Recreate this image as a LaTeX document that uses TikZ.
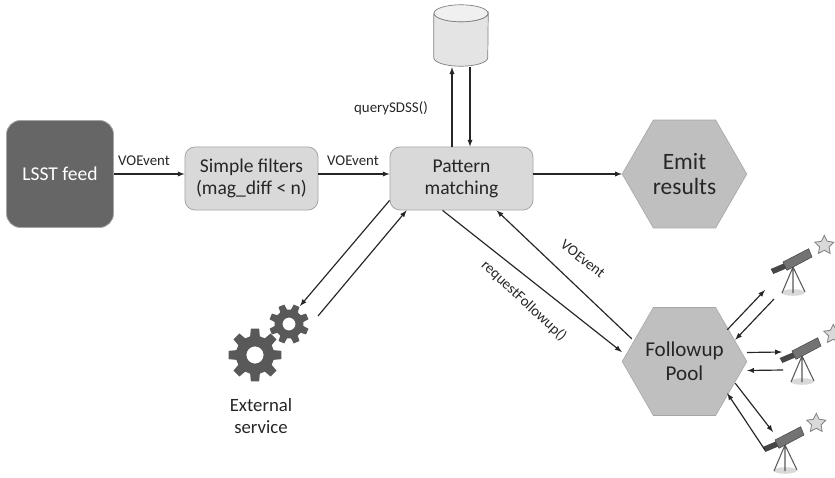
\documentclass[tikz,border=0pt]{standalone}
\usepackage{fontspec}
\setmainfont{Carlito}
\usetikzlibrary{shapes.geometric,calc}

\definecolor{boxfill}{HTML}{D9D9D9}
\definecolor{boxline}{HTML}{A6A6A6}
\definecolor{hexfill}{HTML}{BFBFBF}
\definecolor{darkfill}{HTML}{666666}
\definecolor{iconfill}{HTML}{595959}
\definecolor{inktext}{HTML}{262626}

\tikzset{
  x=.03cm,y=-.03cm,
  every node/.style={text=inktext,align=center,inner sep=0pt},
  flow/.style={-latex,line width=1pt,black!85},
  box/.style={draw=boxline,fill=boxfill,line width=.7pt,rounded corners=.3cm,font=\fontsize{16.7}{18.7}\selectfont},
  hexa/.style={regular polygon,regular polygon sides=6,minimum size=3.74cm,fill=hexfill,draw=boxline,line width=.5pt,font=\fontsize{18}{20.7}\selectfont},
  tag/.style={font=\fontsize{12.7}{14}\selectfont},
  gear/.pic={
    \fill[iconfill,even odd rule] (-14.5:14.5)
      \foreach \a in {0,45,...,315}{
        -- (\a-14.5:14.5) -- (\a-9:20) -- (\a+9:20) -- (\a+14.5:14.5)
      } -- cycle (0,0) circle (6.5);
  },
  telescope/.pic={
    \coordinate (-apex) at (0,0);
    \fill[gray!30] (0,25.5) ellipse (11.7 and 3.3);
    \draw[iconfill,line width=.9pt] (-11,26) -- (0,0) -- (12,25) (0,0) -- (0,26);
    \fill[iconfill!80!black] (-9.3,-3.5) -- (-6.7,1.5) -- (-19.7,7) -- (-22.3,2) -- cycle;
    \fill[gray!90!black,draw=black!75,line width=.4pt] (-10,-5) -- (15.7,-18.3) -- (19,-10) -- (-6,3.3) -- cycle;
    \node[star,star points=5,star point ratio=2,minimum size=.6cm,fill=boxfill,draw=gray,line width=.7pt] (-star) at (31.3,-21.7) {};
  }
}

\begin{document}
\begin{tikzpicture}
  \useasboundingbox (0,0) rectangle (835,478);

  \node[box,fill=darkfill,text=white,minimum width=3.21cm,minimum height=3.21cm,rounded corners=.42cm] (lsst) at (60,174) {LSST feed};
  \node[box,minimum width=3.99cm,minimum height=1.89cm] (filters) at (251.5,178.5) {Simple filters\\(mag\_diff < n)};
  \node[box,minimum width=4.29cm,minimum height=1.89cm] (pattern) at (461.5,178.5) {Pattern\\matching};
  \node[minimum width=1.62cm,minimum height=1.83cm] (db) at (461,35.5) {};
  \draw[draw=gray,line width=.6pt,fill=boxfill!70] ($(db.north west)+(0,8.5)$) -- ($(db.south west)+(0,-8.5)$) arc (180:0:27 and 8.5) -- ($(db.north east)+(0,8.5)$) arc (0:180:27 and 8.5);
  \draw[draw=gray,line width=.6pt,fill=boxfill!40] ($(db.north)+(0,8.5)$) ellipse (27 and 8.5);
  \node[hexa,font=\fontsize{20}{21}\selectfont] (emit) at (684.5,174) {Emit\\\makebox[0pt]{results}};
  \node[hexa] (pool) at (684.5,361.5) {\makebox[0pt]{Followup}\\Pool};

  \coordinate (gearin) at (300,306);
  \coordinate (gearout) at (318,316);
  \pic[rotate=22.5] (gearsmall) at (289,324) {gear};
  \pic[scale=1.33] (gearbig) at (255,355) {gear};
  \node[font=\fontsize{16}{18.7}\selectfont] (external) at (261,416) {External\\service};

  \pic (scopea) at (793,267) {telescope};
  \pic (scopeb) at (802,356) {telescope};
  \pic (scopec) at (785,445) {telescope};

  \draw[flow] (lsst.east |- 0,174) -- (filters.west |- 0,174);
  \draw[flow] (filters.east |- 0,174) -- (pattern.west |- 0,174);
  \draw[flow] (pattern.east |- 0,174) -- (emit.west |- 0,174);
  \draw[flow] ($(pattern.north)+(-9.5,0)$) -- ($(db.south)+(-9,1)$);
  \draw[flow] ($(db.south)+(9,1)$) -- ($(pattern.north)+(8.5,0)$);
  \draw[flow] ($(pattern.south west)+(0,-10)$) -- (gearin);
  \draw[flow] (gearout) -- ($(pattern.south west)+(17,0)$);
  \draw[flow] ($(pattern.south west)+(53,0)$) -- ($(pool.west)+(0,-9.5)$);
  \draw[flow] ($(pool.north west)+(-13,17)$) -- ($(pattern.south west)+(107,0)$);

  \draw[flow] ($(pool.north east)+(3,8)$) -- ($(scopea-apex)+(-28,23)$);
  \draw[flow] ($(scopea-apex)+(-19,32)$) -- ($(pool.north east)+(11,18)$);
  \draw[flow] ($(pool.east)+(0,-9)$) -- ($(scopeb-apex)+(-20,-4)$);
  \draw[flow] ($(scopeb-apex)+(-19,14)$) -- ($(pool.east)+(0,9)$);
  \draw[flow] ($(pool.south east)+(11,-18)$) -- ($(scopec-apex)+(-12,-13)$);
  \draw[flow] ($(scopec-apex)+(-20,5)$) -- ($(pool.south east)+(3,-8)$);

  \node[tag] (voa) at (144,161) {VOEvent};
  \node[tag] (vob) at (353,161) {VOEvent};
  \node[tag] (query) at (391,108) {querySDSS()};
  \node[tag,rotate=-43] (request) at (524,301) {requestFollowup()};
  \node[tag,rotate=-38] (voc) at (583,259) {VOEvent};
\end{tikzpicture}
\end{document}
